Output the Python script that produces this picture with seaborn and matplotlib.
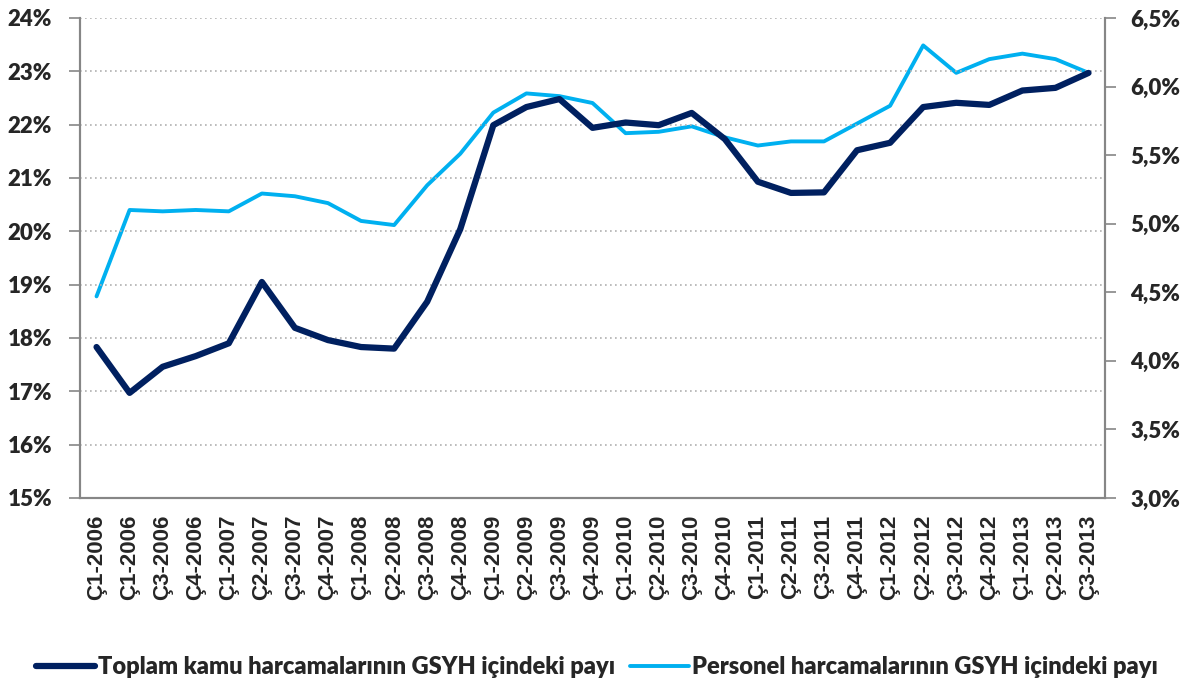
import numpy as np
import pandas as pd
import seaborn as sns
import matplotlib.pyplot as plt
from matplotlib.ticker import FixedLocator, FuncFormatter

# quarters (the source repeats "Ç1-2006" for the second point)
quarters = [
    "Ç1-2006", "Ç1-2006", "Ç3-2006", "Ç4-2006",
    "Ç1-2007", "Ç2-2007", "Ç3-2007", "Ç4-2007",
    "Ç1-2008", "Ç2-2008", "Ç3-2008", "Ç4-2008",
    "Ç1-2009", "Ç2-2009", "Ç3-2009", "Ç4-2009",
    "Ç1-2010", "Ç2-2010", "Ç3-2010", "Ç4-2010",
    "Ç1-2011", "Ç2-2011", "Ç3-2011", "Ç4-2011",
    "Ç1-2012", "Ç2-2012", "Ç3-2012", "Ç4-2012",
    "Ç1-2013", "Ç2-2013", "Ç3-2013",
]

# total public spending / GDP (%), left axis
toplam_kamu = [
    17.83, 16.97, 17.46, 17.66, 17.90, 19.05, 18.19, 17.96,
    17.83, 17.80, 18.68, 20.04, 21.99, 22.33, 22.48, 21.94,
    22.04, 21.99, 22.22, 21.73, 20.93, 20.72, 20.73, 21.52,
    21.66, 22.33, 22.41, 22.37, 22.64, 22.69, 22.97,
]

# personnel spending / GDP (%), right axis
personel = [
    4.47, 5.10, 5.09, 5.10, 5.09, 5.22, 5.20, 5.15,
    5.02, 4.99, 5.28, 5.51, 5.81, 5.95, 5.93, 5.88,
    5.66, 5.67, 5.71, 5.63, 5.57, 5.60, 5.60, 5.73,
    5.86, 6.30, 6.10, 6.20, 6.24, 6.20, 6.10,
]

left_label = "Toplam kamu harcamalarının GSYH içindeki payı"
right_label = "Personel harcamalarının GSYH içindeki payı"

dark = "#002060"
light = "#00B0F0"
axis_gray = "#868686"

df = pd.DataFrame({
    "x": np.arange(len(quarters)),
    "toplam": toplam_kamu,
    "personel": personel,
})

sns.set_style("white")
plt.rcParams["font.family"] = ["Lato", "DejaVu Sans"]

fig = plt.figure(figsize=(11.94, 6.84), dpi=100)
ax = fig.add_axes([0.067, 0.272, 0.8585, 0.7017])
ax2 = ax.twinx()

sns.lineplot(data=df, x="x", y="toplam", ax=ax, color=dark, linewidth=4.5,
             label=left_label, legend=False)
sns.lineplot(data=df, x="x", y="personel", ax=ax2, color=light, linewidth=2.8,
             label=right_label, legend=False)
ax.set_zorder(ax2.get_zorder() + 1)
ax.patch.set_visible(False)

ax.set_xlim(-0.5, len(quarters) - 0.5)
ax.set_ylim(15, 24)
ax2.set_ylim(3.0, 6.5)
ax.set_xlabel("")
ax.set_ylabel("")
ax2.set_ylabel("")

ax.set_yticks(np.arange(15, 25, 1))
ax.yaxis.set_major_formatter(FuncFormatter(lambda v, p: f"{v:.0f}%"))
ax2.set_yticks(np.arange(3.0, 6.51, 0.5))
ax2.yaxis.set_major_formatter(
    FuncFormatter(lambda v, p: f"{v:.1f}%".replace(".", ",")))

ax.set_xticks(np.arange(len(quarters)))
ax.set_xticklabels(quarters, rotation=90)
ax.xaxis.set_minor_locator(FixedLocator(np.arange(-0.5, len(quarters), 1)))
ax.tick_params(axis="x", which="major", length=0, pad=12, labelsize=16,
               labelfontfamily="Liberation Sans")
ax.tick_params(axis="x", which="minor", length=7, color=axis_gray, width=1.2)
ax.tick_params(axis="y", length=8, color=axis_gray, width=1.2, labelsize=16, pad=12)
ax2.tick_params(axis="y", length=8, color=axis_gray, width=1.2, labelsize=16, pad=10)

ax.grid(axis="y", linestyle=(0, (1, 2)), color="#b0b0b0", linewidth=1.2)
ax.grid(axis="x", visible=False)
ax2.grid(False)

for a in (ax, ax2):
    a.spines["top"].set_visible(False)
    for s in ("left", "right", "bottom"):
        a.spines[s].set_color(axis_gray)
        a.spines[s].set_linewidth(1.5)

handles = ax.get_lines()[:1] + ax2.get_lines()[:1]
fig.legend(handles, [left_label, right_label], loc="center",
           bbox_to_anchor=(0.5, 0.025), ncol=2, frameon=False,
           prop={"size": 17, "weight": "heavy"}, handlelength=2.5,
           handletextpad=0.15, columnspacing=0.6)

# style tick labels after the ticks exist
fig.canvas.draw()
for lbl in ax.get_xticklabels():
    lbl.set_fontweight("bold")
for lbl in ax.get_yticklabels() + ax2.get_yticklabels():
    lbl.set_fontweight("heavy")

fig.savefig("out.png", dpi=100)
